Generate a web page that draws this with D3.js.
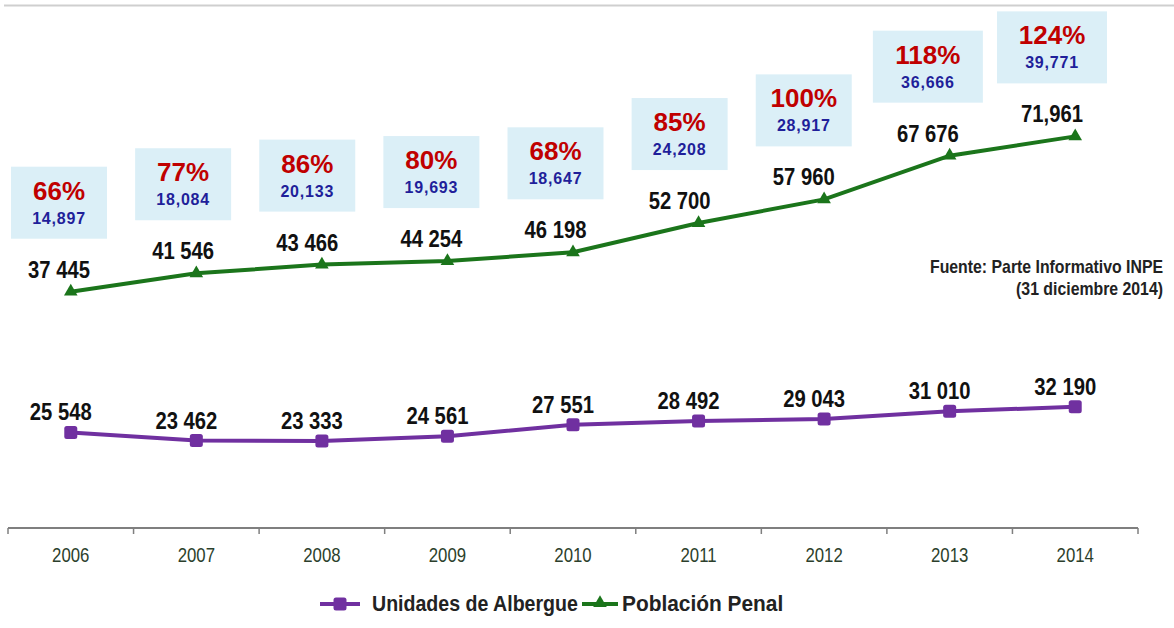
<!DOCTYPE html>
<html>
<head>
<meta charset="utf-8">
<script src="https://cdn.jsdelivr.net/npm/d3@7/dist/d3.min.js"></script>
<style>
  body { margin: 0; background: #fff; }
  svg { display: block; }
  text { font-family: "Liberation Sans", Arial, sans-serif; }
</style>
</head>
<body>
<svg class="chart"></svg>
<script>
const years = ['2006', '2007', '2008', '2009', '2010', '2011', '2012', '2013', '2014'];
const poblacion = [37445, 41546, 43466, 44254, 46198, 52700, 57960, 67676, 71961];
const albergue = [25548, 23462, 23333, 24561, 27551, 28492, 29043, 31010, 32190];
const sobrePct = [66, 77, 86, 80, 68, 85, 100, 118, 124];
const sobreCant = [14897, 18084, 20133, 19693, 18647, 24208, 28917, 36666, 39771];
const poblacionLabels = ['37 445', '41 546', '43 466', '44 254', '46 198', '52 700', '57 960', '67 676', '71,961'];
const albergueLabels = ['25 548', '23 462', '23 333', '24 561', '27 551', '28 492', '29 043', '31 010', '32 190'];

const [width, height] = [1174, 628];
const svg = d3.select('.chart').attr('width', width).attr('height', height);

const x = d3.scaleBand().domain(years).range([8, 1138]);
const xc = (d) => x(d) + x.bandwidth() / 2;
// the callouts drift left of the points, like in the original slide
const xBox = d3.scalePoint().domain(years).range([59, 1052]);
const yPob = d3.scaleLinear().domain([30000, 80000]).range([325.2, 100.2]);
const yAlb = d3.scaleLinear().domain([0, 40000]).range([531.3, 376.5]);

const green = '#1b751b';
const purple = '#7030a0';

// no narrow font installed, so squeeze the text instead
const narrow = (s) => (fx, fy) => (d, i) => `translate(${fx(d, i)},${fy(d, i)}) scale(${s},1)`;

// thin rule at the top
svg.append('line')
  .attr('x1', 4).attr('x2', width).attr('y1', 5.5).attr('y2', 5.5)
  .attr('stroke', '#cfcfcf').attr('stroke-width', 2);

// x axis
const axis = svg.append('g').attr('transform', 'translate(0,528)');
axis.append('line').attr('x1', 8).attr('x2', 1138).attr('stroke', '#7f7f7f').attr('stroke-width', 2);
axis.selectAll('.tk')
  .data(years.concat(['end']))
  .enter()
  .append('line')
  .attr('x1', (d, i) => i < years.length ? x(d) : x.range()[1])
  .attr('x2', (d, i) => i < years.length ? x(d) : x.range()[1])
  .attr('y1', 0).attr('y2', 6)
  .attr('stroke', '#7f7f7f').attr('stroke-width', 1.5);
axis.selectAll('.yr')
  .data(years)
  .enter()
  .append('text')
  .attr('transform', narrow(0.8)(xc, () => 34))
  .attr('text-anchor', 'middle')
  .attr('font-size', 21)
  .attr('fill', '#2c3f2c')
  .text((d) => d);

// callout boxes
const box = svg.append('g').selectAll('g')
  .data(years)
  .enter()
  .append('g')
  .attr('transform', (d, i) => `translate(${xBox(d)},${yPob(poblacion[i]) - 125})`);
box.append('rect')
  .attr('x', (d, i) => sobrePct[i] > 100 ? -55 : -48)
  .attr('width', (d, i) => sobrePct[i] > 100 ? 110 : 96)
  .attr('height', 72)
  .attr('fill', '#dbeff7');
box.append('text')
  .attr('y', 33)
  .attr('text-anchor', 'middle')
  .attr('font-weight', 'bold')
  .attr('font-size', 26)
  .attr('fill', '#c00000')
  .text((d, i) => `${sobrePct[i]}%`);
box.append('text')
  .attr('y', 57)
  .attr('text-anchor', 'middle')
  .attr('font-weight', 'bold')
  .attr('font-size', 16)
  .attr('letter-spacing', 0.8)
  .attr('fill', '#1f1f9a')
  .text((d, i) => d3.format(',')(sobreCant[i]));

// lines
const linePob = d3.line().x((d, i) => xc(years[i])).y((d) => yPob(d));
const lineAlb = d3.line().x((d, i) => xc(years[i])).y((d) => yAlb(d));

svg.append('path').datum(albergue)
  .attr('d', lineAlb).attr('fill', 'none').attr('stroke', purple).attr('stroke-width', 4);
svg.append('path').datum(poblacion)
  .attr('d', linePob).attr('fill', 'none').attr('stroke', green).attr('stroke-width', 4);

svg.append('g').selectAll('rect')
  .data(albergue)
  .enter()
  .append('rect')
  .attr('x', (d, i) => xc(years[i]) - 6.5)
  .attr('y', (d) => yAlb(d) - 6.5)
  .attr('width', 13).attr('height', 13).attr('rx', 2.5)
  .attr('fill', purple);

const tri = d3.symbol().type(d3.symbolTriangle).size(80);
svg.append('g').selectAll('path')
  .data(poblacion)
  .enter()
  .append('path')
  .attr('d', tri)
  .attr('transform', (d, i) => `translate(${xc(years[i])},${yPob(d)})`)
  .attr('fill', green);

// value labels
svg.append('g').selectAll('text')
  .data(poblacion)
  .enter()
  .append('text')
  .attr('transform', narrow(0.88)((d, i) => xBox(years[i]), (d) => yPob(d) - 14))
  .attr('text-anchor', 'middle')
  .attr('font-weight', 'bold')
  .attr('font-size', 23)
  .attr('fill', '#111')
  .text((d, i) => poblacionLabels[i]);

svg.append('g').selectAll('text')
  .data(albergue)
  .enter()
  .append('text')
  .attr('transform', narrow(0.88)((d, i) => xc(years[i]) - 10, (d) => yAlb(d) - 12))
  .attr('text-anchor', 'middle')
  .attr('font-weight', 'bold')
  .attr('font-size', 23)
  .attr('fill', '#111')
  .text((d, i) => albergueLabels[i]);

// source note
const src = svg.append('text')
  .attr('transform', 'translate(1163,273) scale(0.88,1)')
  .attr('text-anchor', 'end')
  .attr('font-weight', 'bold')
  .attr('font-size', 18)
  .attr('fill', '#222');
src.append('tspan').attr('x', 0).attr('y', 0).text('Fuente: Parte Informativo INPE');
src.append('tspan').attr('x', 0).attr('y', 22).text('(31 diciembre 2014)');

// legend
const legend = svg.append('g').attr('transform', 'translate(0,611)');
legend.append('line').attr('x1', 320).attr('x2', 360).attr('y1', -7).attr('y2', -7)
  .attr('stroke', purple).attr('stroke-width', 4);
legend.append('rect').attr('x', 333.5).attr('y', -13.5).attr('width', 13).attr('height', 13).attr('rx', 2.5)
  .attr('fill', purple);
legend.append('text').attr('transform', 'translate(372,0) scale(0.89,1)')
  .attr('font-weight', 'bold').attr('font-size', 22).attr('fill', '#222')
  .text('Unidades de Albergue');
legend.append('line').attr('x1', 582).attr('x2', 618).attr('y1', -7).attr('y2', -7)
  .attr('stroke', green).attr('stroke-width', 4);
legend.append('path').attr('d', tri).attr('transform', 'translate(600,-8)').attr('fill', green);
legend.append('text').attr('transform', 'translate(622,0) scale(0.95,1)')
  .attr('font-weight', 'bold').attr('font-size', 22).attr('fill', '#222')
  .text('Población Penal');
</script>
</body>
</html>
